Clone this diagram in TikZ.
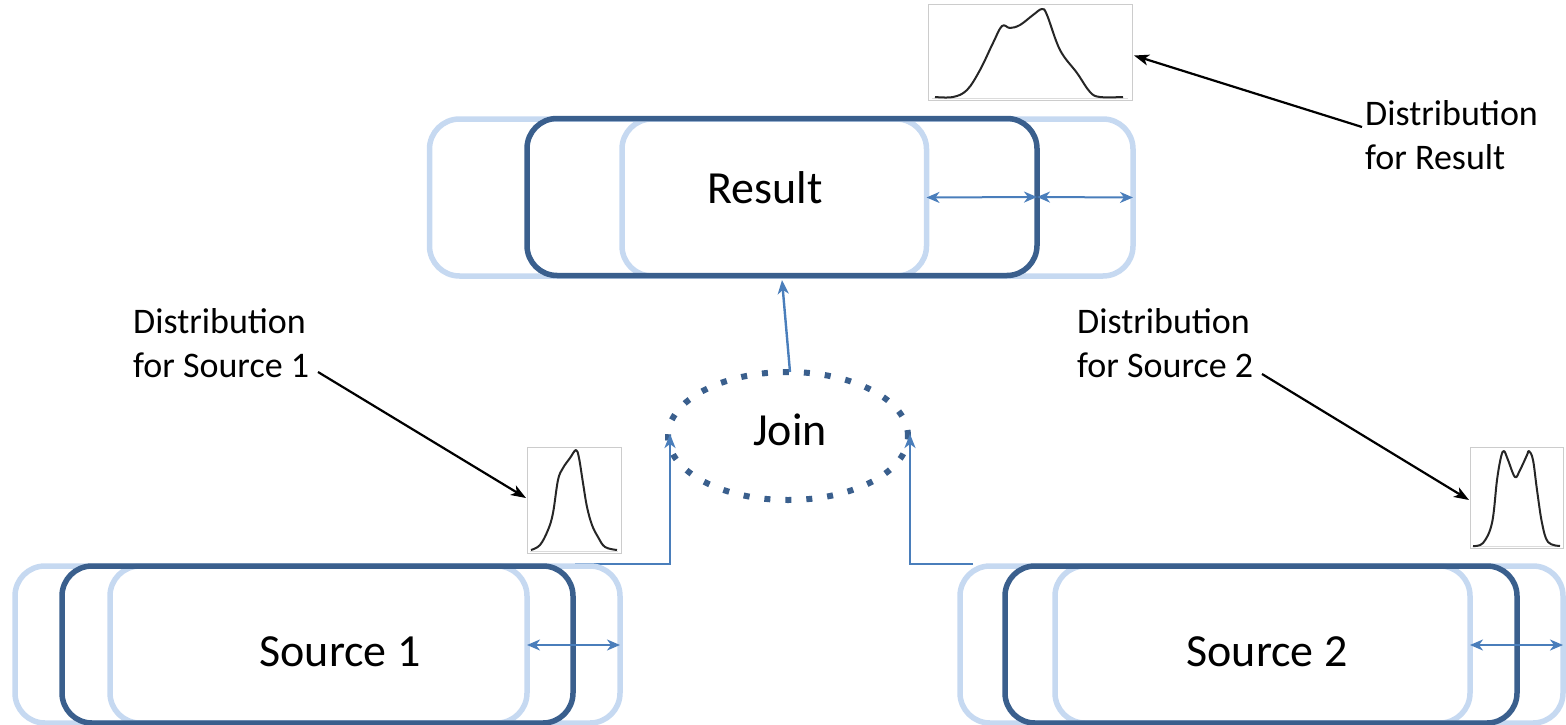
\documentclass[tikz,border=0pt]{standalone}
\usepackage{fontspec}
\setmainfont{Carlito}
\usetikzlibrary{arrows.meta,calc,shapes.geometric}
\definecolor{paleblue}{HTML}{C6D9F1}
\definecolor{deepblue}{HTML}{3A5F8D}
\definecolor{linkblue}{HTML}{4A7EBB}
\definecolor{frame}{HTML}{CCCCCC}
\begin{document}
\begin{tikzpicture}[x=1pt,y=-1pt,
  lbox/.style={draw=paleblue, line width=5.5pt, rounded corners=30pt,
    minimum width=510pt, minimum height=157pt, inner sep=0pt, outer sep=0pt},
  dbox/.style={lbox, draw=deepblue},
  title/.style={font=\fontsize{46}{55}\selectfont, inner sep=0pt},
  note/.style={font=\fontsize{36}{44}\selectfont, align=left, inner sep=0pt, anchor=west},
  plotframe/.style={draw=frame, line width=1pt, inner sep=0pt, outer sep=0pt},
  curve/.style={line width=2pt, black!85, line join=round},
  conn/.style={linkblue, line width=2.4pt, -{Stealth[length=14pt,width=11pt,inset=4pt]}},
  span/.style={linkblue, line width=2pt,
    {Stealth[length=13pt,width=11pt,inset=4pt]}-{Stealth[length=13pt,width=11pt,inset=4pt]}},
  pointer/.style={black, line width=2.2pt, -{Stealth[length=15pt,width=11pt,inset=4pt]}}]
\useasboundingbox (0,0) rectangle (1566,725);

% ---- join operator ----
\node[draw=deepblue, line width=6pt, dash pattern=on 6pt off 15pt,
  ellipse, minimum width=240pt, minimum height=128pt, inner sep=0pt] (join) at (788,436) {};
\node[title] (joinlbl) at (790,430) {Join};

% ---- connector end points ----
\coordinate (s1out) at (575,564);
\coordinate (s1bend) at (670,564);
\coordinate (s1in) at (670,434);
\coordinate (s2out) at (973,564);
\coordinate (s2bend) at (910,564);
\coordinate (s2in) at (910,434);
\coordinate (jout) at (790,372);
\coordinate (rin) at (782,280);

\draw[conn] (s1out) -- (s1bend) -- (s1in);
\draw[conn] (s2out) -- (s2bend) -- (s2in);
\draw[conn] (jout) -- (rin);

% ---- result relation ----
\node[lbox, minimum width=497pt] (resA) at (678,197.5) {};
\node[lbox, minimum width=511pt] (resB) at (877.5,197.5) {};
\node[dbox] (resD) at (782,197) {};
\node[title] (reslbl) at (765,188) {Result};
\draw[span] (resA.east) -- (resD.east);
\draw[span] (resD.east) -- (resB.east);

% ---- source 1 ----
\node[lbox, minimum width=512pt] (s1A) at (271,644.5) {};
\node[lbox] (s1B) at (365,644.5) {};
\node[dbox, minimum width=511pt] (s1D) at (317.5,644.5) {};
\node[title] (s1lbl) at (340,652) {Source 1};
\draw[span] ($(s1A.east)+(0,0.5)$) -- ($(s1B.east)+(0,0.5)$);

% ---- source 2 ----
\node[lbox] (s2A) at (1215,644.5) {};
\node[lbox, minimum width=508pt] (s2B) at (1309,644.5) {};
\node[dbox, minimum width=512pt] (s2D) at (1261,644.5) {};
\node[title] (s2lbl) at (1267,652) {Source 2};
\draw[span] ($(s2A.east)+(0,0.5)$) -- ($(s2B.east)+(0,0.5)$);

% ---- distribution plots ----
\node[plotframe, minimum width=204pt, minimum height=95pt] (pres) at (1030,52.5) {};
\draw[frame!70, line width=0.6pt] (932,98) -- (1128,98);
\draw[curve] plot[smooth, tension=0.6] coordinates {
  (935,97) (953,97) (967,90) (980,70) (993,43) (1002,26) (1010,28)
  (1020,25) (1033,15) (1042,9) (1047,15) (1060,50) (1077,73)
  (1090,92) (1100,97) (1123,97)};

\node[plotframe, minimum width=94pt, minimum height=106pt] (ps1) at (574,500) {};
\draw[frame!70, line width=0.6pt] (530,551) -- (618,551);
\draw[curve] plot[smooth, tension=0.6] coordinates {
  (531,550) (540,545) (548,530) (553,513) (558,480) (563,468) (570,458)
  (576,450) (579,458) (583,483) (587,507) (592,525) (598,537) (605,547) (617,550)};

\node[plotframe, minimum width=93pt, minimum height=101pt] (ps2) at (1516.5,497.5) {};
\draw[frame!70, line width=0.6pt] (1473,546) -- (1560,546);
\draw[curve] plot[smooth, tension=0.6] coordinates {
  (1473,546) (1483,543) (1492,523) (1497,480) (1501,457) (1504,451)
  (1508,460) (1515,477) (1520,470) (1527,455) (1529,451) (1533,460)
  (1537,490) (1542,523) (1548,542) (1560,546)};

% ---- annotations ----
\node[note] (nres) at (1365,135) {Distribution\\for Result};
\node[note] (ns1) at (133,343) {Distribution\\for Source 1};
\node[note] (ns2) at (1077,343) {Distribution\\for Source 2};

\coordinate (nresfoot) at (1362,127);
\coordinate (ns1foot) at (318,372);
\coordinate (ns2foot) at (1262,374);
\draw[pointer] (nresfoot) -- ($(pres.east)+(2,3)$);
\draw[pointer] (ns1foot) -- ($(ps1.west)+(-1,-2)$);
\draw[pointer] (ns2foot) -- ($(ps2.west)+(-1,2.5)$);
\end{tikzpicture}
\end{document}
